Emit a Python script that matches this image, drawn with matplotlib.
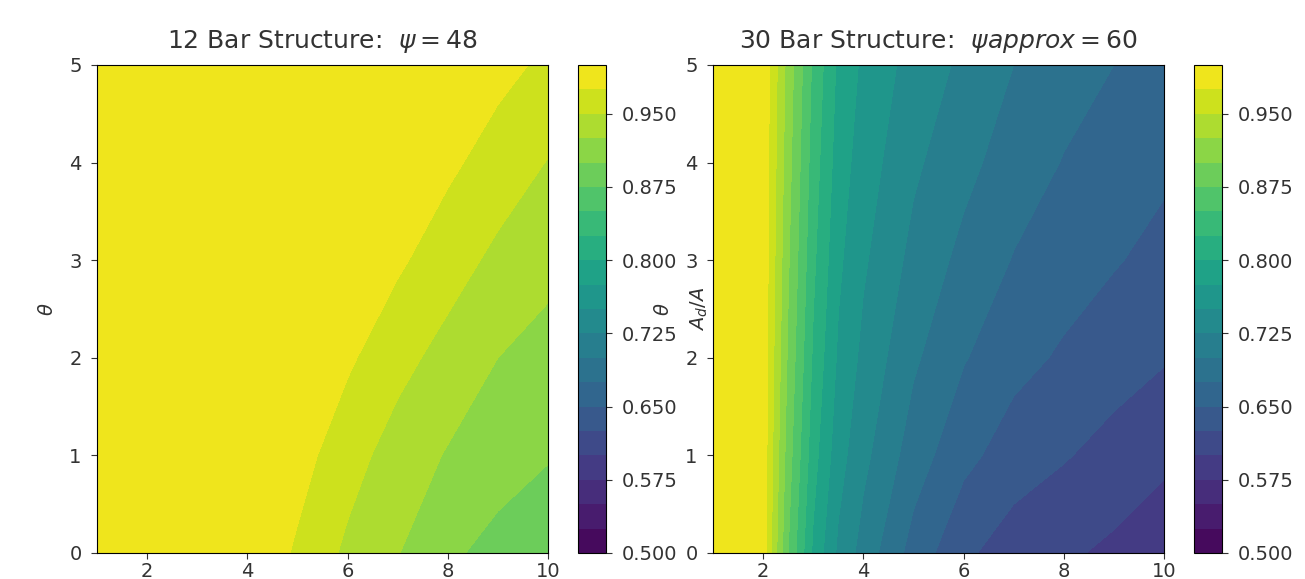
import numpy as np
import matplotlib
matplotlib.use("Agg")
import matplotlib.pyplot as plt
from matplotlib.ticker import FormatStrFormatter

# ---- data ----
levels = np.linspace(0.5, 1.0, 21)
cbar_ticks = [0.500, 0.575, 0.650, 0.725, 0.800, 0.875, 0.950]

# Left panel: 12 bar structure
x_left = [1, 2, 3, 4, 5, 6, 7, 8, 9, 10]
theta_left = [0, 1, 2, 3, 4, 5]
z_left = [
    [0.999, 0.999, 0.999, 0.998, 0.971, 0.945, 0.926, 0.905, 0.891, 0.880],
    [0.999, 0.999, 0.999, 0.999, 0.985, 0.960, 0.939, 0.923, 0.912, 0.902],
    [0.999, 0.999, 0.999, 0.999, 0.990, 0.979, 0.958, 0.941, 0.925, 0.916],
    [0.999, 0.999, 0.999, 0.999, 0.997, 0.990, 0.979, 0.961, 0.944, 0.932],
    [0.999, 0.999, 0.999, 0.999, 0.999, 0.998, 0.990, 0.980, 0.964, 0.949],
    [0.999, 0.999, 0.999, 0.999, 0.999, 0.999, 0.999, 0.993, 0.9825, 0.970],
]

# Right panel: 30 bar structure
x_right = [1, 1.5, 2, 2.25, 2.5, 3, 3.5, 4, 5, 6, 7, 8, 9, 10]
theta_right = [0, 1, 2, 3, 4, 5]
z_right = [
    [0.999, 0.999, 0.990, 0.930, 0.875, 0.795, 0.745, 0.715, 0.665, 0.630, 0.612, 0.604, 0.595, 0.585],
    [0.999, 0.999, 0.9915, 0.9375, 0.887, 0.810, 0.760, 0.7315, 0.6875, 0.657, 0.638, 0.627, 0.616, 0.605],
    [0.999, 0.999, 0.9926, 0.943, 0.8958, 0.821, 0.771, 0.7436, 0.704, 0.6768, 0.6578, 0.6466, 0.636, 0.627],
    [0.999, 0.999, 0.9935, 0.9475, 0.903, 0.830, 0.780, 0.7535, 0.7175, 0.693, 0.6736, 0.661, 0.6519, 0.6425],
    [0.999, 0.999, 0.9943, 0.9515, 0.9094, 0.838, 0.788, 0.7623, 0.7295, 0.7074, 0.6877, 0.6738, 0.6642, 0.6545],
    [0.999, 0.999, 0.995, 0.955, 0.915, 0.845, 0.795, 0.770, 0.740, 0.720, 0.700, 0.685, 0.675, 0.665],
]

titles = ["12 Bar Structure:  $\\psi = 48$", "30 Bar Structure:  $\\psi approx = 60$"]
x_ticks = [2, 4, 6, 8, 10]
y_ticks = [0, 1, 2, 3, 4, 5]

# ---- figure ----
W, H = 1305, 579
fig = plt.figure(figsize=(W / 100, H / 100), dpi=100)
txt_col = "#333333"
plt.rcParams["font.family"] = ["DejaVu Sans"]


def rect(l, t, w, h):
    return [l / W, 1 - (t + h) / H, w / W, h / H]


panels = [
    (x_left, theta_left, z_left, 97, 578),
    (x_right, theta_right, z_right, 713, 1194),
]

for i, (xs, ys, zs, axl, cbl) in enumerate(panels):
    ax = fig.add_axes(rect(axl, 65, 451, 488))
    cax = fig.add_axes(rect(cbl, 65, 28, 488))
    X, Y = np.meshgrid(np.array(xs, float), np.array(ys, float))
    cs = ax.contourf(X, Y, np.array(zs), levels=levels, cmap="viridis",
                     vmin=0.5, vmax=1.0)
    ax.set_xlim(1, 10)
    ax.set_ylim(0, 5)
    ax.set_xticks(x_ticks)
    ax.set_yticks(y_ticks)
    ax.tick_params(labelsize=14, colors=txt_col, length=4)
    ax.tick_params(axis="y", pad=7)
    ax.tick_params(axis="x", pad=2.5)
    ax.set_title(titles[i], fontsize=18, color=txt_col, pad=12)
    ax.set_ylabel("$\\theta$", fontsize=14, color=txt_col, labelpad=9)
    cb = fig.colorbar(cs, cax=cax, ticks=cbar_ticks)
    cb.ax.yaxis.set_major_formatter(FormatStrFormatter("%.3f"))
    cb.ax.tick_params(labelsize=14, colors=txt_col, length=4, pad=7)
    cb.set_label("$A_d/A$", fontsize=14, color=txt_col, labelpad=8)

fig.savefig("out.png", dpi=100)
